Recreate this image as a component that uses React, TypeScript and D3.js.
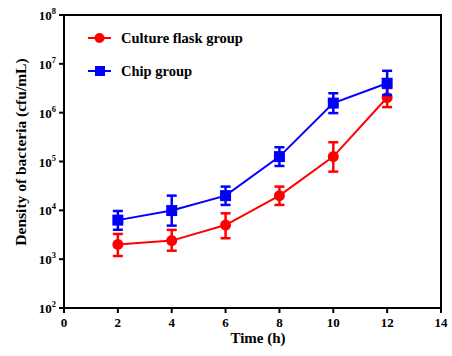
import React, { useEffect, useRef } from 'react';
import * as d3 from 'd3';

const times = [2, 4, 6, 8, 10, 12];
const flaskMean = [2000, 2400, 5000, 20000, 126000, 2040000];
const flaskLow = [1160, 1490, 2680, 12900, 62000, 1300000];
const flaskHigh = [3280, 3980, 8700, 30600, 248000, 3200000];
const chipMean = [6300, 9900, 20000, 126000, 1570000, 4000000];
const chipLow = [4000, 4860, 12900, 81000, 980000, 2300000];
const chipHigh = [9700, 20000, 30600, 196000, 2500000, 7200000];
const xTicks = [0, 2, 4, 6, 8, 10, 12, 14];
const yExponents = [2, 3, 4, 5, 6, 7, 8];

const App: React.FC = () => {
  const ref = useRef<SVGSVGElement | null>(null);

  useEffect(() => {
    if (!ref.current) return;
    const svg = d3.select(ref.current);
    svg.selectAll('*').remove();
    const width = 452;
    const height = 356;
    const left = 64, right = 441, top = 15, bottom = 308;
    const font = '"Liberation Serif", "Times New Roman", serif';

    const x = d3.scaleLinear().domain([0, 14]).range([left, right]);
    const y = d3.scaleLog().domain([1e2, 1e8]).range([bottom, top]);

    svg.attr('width', width).attr('height', height);

    // frame
    svg.append('rect')
      .attr('x', left).attr('y', top)
      .attr('width', right - left).attr('height', bottom - top)
      .attr('fill', 'none').attr('stroke', '#000').attr('stroke-width', 2);

    // x ticks
    const xg = svg.append('g');
    xTicks.forEach((t) => {
      xg.append('line')
        .attr('x1', x(t)).attr('x2', x(t))
        .attr('y1', bottom).attr('y2', bottom + 5)
        .attr('stroke', '#000').attr('stroke-width', 2);
      xg.append('text')
        .attr('x', x(t)).attr('y', 327)
        .attr('text-anchor', 'middle')
        .attr('font-family', font).attr('font-weight', 'bold').attr('font-size', 13)
        .text(String(t));
    });

    // y ticks
    const yg = svg.append('g');
    yExponents.forEach((e) => {
      const v = Math.pow(10, e);
      yg.append('line')
        .attr('x1', left - 5).attr('x2', left)
        .attr('y1', y(v)).attr('y2', y(v))
        .attr('stroke', '#000').attr('stroke-width', 2);
      const t = yg.append('text')
        .attr('x', 56).attr('y', y(v) + 5)
        .attr('text-anchor', 'end')
        .attr('font-family', font).attr('font-weight', 'bold').attr('font-size', 13);
      t.append('tspan').text('10');
      t.append('tspan').attr('dy', -6).attr('font-size', 8.5).text(String(e));
    });

    // axis titles
    svg.append('text')
      .attr('x', 258).attr('y', 343)
      .attr('text-anchor', 'middle')
      .attr('font-family', font).attr('font-weight', 'bold').attr('font-size', 15)
      .text('Time (h)');
    svg.append('text')
      .attr('transform', `translate(26,152) rotate(-90)`)
      .attr('text-anchor', 'middle')
      .attr('font-family', font).attr('font-weight', 'bold').attr('font-size', 15.5)
      .text('Density of bacteria (cfu/mL)');

    const line = d3.line<number>()
      .x((_, i) => x(times[i]))
      .y((d) => y(d));

    const series = [
      { name: 'Culture flask group', color: '#ff0000', mean: flaskMean, low: flaskLow, high: flaskHigh, shape: 'circle' },
      { name: 'Chip group', color: '#0000ff', mean: chipMean, low: chipLow, high: chipHigh, shape: 'square' },
    ];

    series.forEach((s) => {
      const g = svg.append('g');
      g.append('path')
        .attr('d', line(s.mean) as string)
        .attr('fill', 'none').attr('stroke', s.color).attr('stroke-width', 2);
      times.forEach((t, i) => {
        const cx = x(t);
        g.append('line')
          .attr('x1', cx).attr('x2', cx)
          .attr('y1', y(s.low[i])).attr('y2', y(s.high[i]))
          .attr('stroke', s.color).attr('stroke-width', 2.5);
        [s.low[i], s.high[i]].forEach((v) => {
          g.append('line')
            .attr('x1', cx - 5).attr('x2', cx + 5)
            .attr('y1', y(v)).attr('y2', y(v))
            .attr('stroke', s.color).attr('stroke-width', 2.5);
        });
        if (s.shape === 'circle') {
          g.append('circle').attr('cx', cx).attr('cy', y(s.mean[i])).attr('r', 5.5).attr('fill', s.color);
        } else {
          g.append('rect')
            .attr('x', cx - 5.5).attr('y', y(s.mean[i]) - 5.5)
            .attr('width', 11).attr('height', 11).attr('fill', s.color);
        }
      });
    });

    // legend
    series.forEach((s, i) => {
      const ly = 38 + i * 33;
      const lg = svg.append('g');
      lg.append('line')
        .attr('x1', 88).attr('x2', 111).attr('y1', ly).attr('y2', ly)
        .attr('stroke', s.color).attr('stroke-width', 2);
      if (s.shape === 'circle') {
        lg.append('circle').attr('cx', 99.5).attr('cy', ly).attr('r', 5).attr('fill', s.color);
      } else {
        lg.append('rect').attr('x', 95).attr('y', ly - 5).attr('width', 10).attr('height', 10).attr('fill', s.color);
      }
      lg.append('text')
        .attr('x', 121).attr('y', ly + 5)
        .attr('font-family', font).attr('font-weight', 'bold').attr('font-size', 14.5)
        .text(s.name);
    });
  }, []);

  return (
    <div style={{ position: 'absolute', left: 0, top: 0, background: '#fff' }}>
      <svg ref={ref}></svg>
    </div>
  );
};

export default App;
